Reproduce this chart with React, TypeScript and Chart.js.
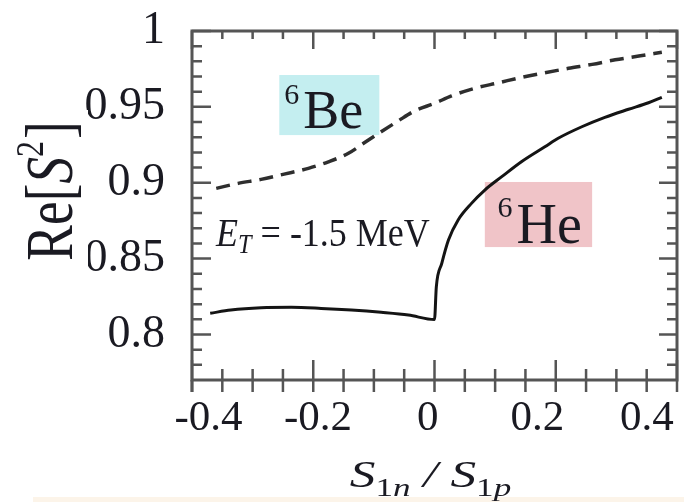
import React, { useEffect, useRef } from "react";
import { Chart, registerables } from "chart.js";

Chart.register(...registerables);

// Axis ticks and their printed labels
const xTickValues = [-0.4, -0.2, 0, 0.2, 0.4];
const xTickLabels = ["-0.4", "-0.2", "0", "0.2", "0.4"];
const yTickValues = [0.8, 0.85, 0.9, 0.95, 1.0];
const yTickLabels = ["0.8", "0.85", "0.9", "0.95", "1"];

// 6Be curve (dashed)
const be6X = [-0.36, -0.324, -0.286, -0.248, -0.208, -0.175, -0.142, -0.117, -0.088, -0.06, -0.033, 0.0, 0.028, 0.066, 0.106, 0.144, 0.182, 0.221, 0.26, 0.298, 0.337, 0.375];
const be6Y = [0.8963, 0.8996, 0.9022, 0.9057, 0.9095, 0.9138, 0.9194, 0.926, 0.9336, 0.9407, 0.9473, 0.9523, 0.9572, 0.9622, 0.9659, 0.9695, 0.9725, 0.9754, 0.978, 0.981, 0.9835, 0.986];

// 6He curve (solid)
const he6X = [-0.37, -0.336, -0.286, -0.236, -0.187, -0.137, -0.088, -0.043, 0.0, 0.003, 0.012, 0.023, 0.039, 0.061, 0.083, 0.111, 0.144, 0.182, 0.204, 0.243, 0.281, 0.32, 0.353, 0.375];
const he6Y = [0.814, 0.8161, 0.8176, 0.8179, 0.8172, 0.8161, 0.8146, 0.8128, 0.8098, 0.8314, 0.8469, 0.8623, 0.8755, 0.8864, 0.8952, 0.904, 0.914, 0.9237, 0.9293, 0.9369, 0.9431, 0.9484, 0.9527, 0.9563];

const SERIF = '"Liberation Serif", "DejaVu Serif", serif';
const TEXT = "#1a1a22";

type Part = { t: string; size: number; italic?: boolean; dy?: number; dx?: number };

function fontOf(p: Part) {
  return `${p.italic ? "italic " : ""}${p.size}px ${SERIF}`;
}

function measureParts(ctx: CanvasRenderingContext2D, parts: Part[]) {
  let w = 0;
  for (const p of parts) {
    ctx.font = fontOf(p);
    w += (p.dx || 0) + ctx.measureText(p.t).width;
  }
  return w;
}

// Draws a run of text pieces (with sub/superscripts) from a baseline point
function drawParts(ctx: CanvasRenderingContext2D, parts: Part[], x: number, y: number, sx = 1, sy = 1, center = false) {
  ctx.save();
  ctx.translate(x, y);
  ctx.scale(sx, sy);
  ctx.textBaseline = "alphabetic";
  ctx.textAlign = "left";
  ctx.fillStyle = TEXT;
  let cx = center ? -measureParts(ctx, parts) / 2 : 0;
  for (const p of parts) {
    ctx.font = fontOf(p);
    cx += p.dx || 0;
    ctx.fillText(p.t, cx, p.dy || 0);
    cx += ctx.measureText(p.t).width;
  }
  ctx.restore();
}

// Keeps tick-label overflow from shrinking the plot box
const noOverflow = (scale: any) => {
  scale.paddingLeft = 0;
  scale.paddingRight = 0;
  scale.paddingTop = 0;
  scale.paddingBottom = 0;
};

const underlayPlugin = {
  id: "underlay",
  beforeDatasetsDraw(chart: any) {
    const { ctx } = chart;
    const xs = chart.scales.x;
    const ys = chart.scales.y;
    const box = (x0: number, x1: number, y0: number, y1: number, color: string) => {
      const px0 = xs.getPixelForValue(x0);
      const px1 = xs.getPixelForValue(x1);
      const py0 = ys.getPixelForValue(y0);
      const py1 = ys.getPixelForValue(y1);
      ctx.save();
      ctx.fillStyle = color;
      ctx.fillRect(px0, py0, px1 - px0, py1 - py0);
      ctx.restore();
    };
    box(-0.256, -0.091, 0.971, 0.9314, "#c4eef0");
    box(0.083, 0.26, 0.9005, 0.8576, "#f0c4c8");

    drawParts(
      ctx,
      [
        { t: "6", size: 30, dy: -24 },
        { t: "Be", size: 54, dx: 4 },
      ],
      xs.getPixelForValue(-0.248),
      ys.getPixelForValue(0.936)
    );
    drawParts(
      ctx,
      [
        { t: "6", size: 30, dy: -26 },
        { t: "He", size: 56, dx: 4 },
      ],
      xs.getPixelForValue(0.104),
      ys.getPixelForValue(0.8602)
    );
    drawParts(
      ctx,
      [
        { t: "E", size: 40, italic: true },
        { t: "T", size: 27, italic: true, dy: 7 },
        { t: " = -1.5 MeV", size: 40 },
      ],
      xs.getPixelForValue(-0.3603),
      ys.getPixelForValue(0.8583),
      0.9
    );
  },
};

const framePlugin = {
  id: "frame",
  afterDraw(chart: any) {
    const { ctx, chartArea } = chart;
    const { left, right, top, bottom } = chartArea;
    const xs = chart.scales.x;
    const ys = chart.scales.y;
    ctx.save();
    ctx.strokeStyle = "#555555";
    ctx.lineWidth = 3;
    ctx.strokeRect(left, top, right - left, bottom - top);
    ctx.beginPath();
    ctx.moveTo(left, bottom);
    ctx.lineTo(left, bottom + 12);
    ctx.stroke();

    ctx.lineWidth = 2.5;
    ctx.beginPath();
    for (let k = -8; k <= 8; k++) {
      const px = xs.getPixelForValue(k * 0.05);
      const major = k % 4 === 0;
      ctx.moveTo(px, top);
      ctx.lineTo(px, top + (major ? 18 : 8));
      ctx.moveTo(px, bottom + 12);
      ctx.lineTo(px, bottom - (major ? 20 : 11));
    }
    for (let k = 1; k <= 23; k++) {
      const v = 0.77 + k * 0.01;
      const py = ys.getPixelForValue(v);
      const major = Math.round(v * 100) % 5 === 0;
      ctx.moveTo(left, py);
      ctx.lineTo(left + (major ? 19 : 10), py);
      ctx.moveTo(right, py);
      ctx.lineTo(right - (major ? 18 : 10), py);
    }
    ctx.stroke();
    ctx.restore();

    // pale strip along the lower edge
    ctx.save();
    ctx.fillStyle = "#fcf4e9";
    ctx.fillRect(33, chart.height - 5, chart.width - 33, 5);
    ctx.restore();

    // y-axis title on its own white backing
    ctx.save();
    ctx.fillStyle = "#ffffff";
    ctx.fillRect(0, 110, 88, 163);
    ctx.restore();
    ctx.save();
    ctx.translate(72, top + 160);
    ctx.rotate(-Math.PI / 2);
    drawParts(
      ctx,
      [
        { t: "Re[", size: 60 },
        { t: "S", size: 60, italic: true },
        { t: "2", size: 36, dy: -26 },
        { t: "]", size: 60, dx: 2 },
      ],
      0,
      0,
      0.89,
      1.12,
      true
    );
    ctx.restore();

    // x-axis title
    drawParts(
      ctx,
      [
        { t: "S", size: 38, italic: true },
        { t: "1", size: 26, dy: 9 },
        { t: "n", size: 26, italic: true, dy: 9 },
        { t: " / ", size: 38, italic: true },
        { t: "S", size: 38, italic: true },
        { t: "1", size: 26, dy: 9 },
        { t: "p", size: 26, italic: true, dy: 9 },
      ],
      (left + right) / 2 - 4,
      bottom + 107,
      1.35,
      1,
      true
    );
  },
};

export default function App() {
  const canvasRef = useRef<HTMLCanvasElement | null>(null);

  useEffect(() => {
    const canvas = canvasRef.current;
    if (!canvas) return;
    const chart = new Chart(canvas, {
      type: "line",
      data: {
        datasets: [
          {
            label: "6Be",
            data: be6X.map((x, i) => ({ x, y: be6Y[i] })),
            xAxisID: "x",
            yAxisID: "y",
            borderColor: "#2e2e2e",
            borderWidth: 3.5,
            borderDash: [14, 8],
            pointRadius: 0,
            cubicInterpolationMode: "monotone",
            fill: false,
          },
          {
            label: "6He",
            data: he6X.map((x, i) => ({ x, y: he6Y[i] })),
            xAxisID: "x",
            yAxisID: "y",
            borderColor: "#141414",
            borderWidth: 3,
            pointRadius: 0,
            cubicInterpolationMode: "monotone",
            fill: false,
          },
        ],
      },
      options: {
        animation: false,
        responsive: false,
        maintainAspectRatio: false,
        layout: { padding: { top: 31, right: 7, left: 0, bottom: 0 } },
        plugins: { legend: { display: false }, tooltip: { enabled: false } },
        scales: {
          x: { type: "linear", min: -0.4, max: 0.4, display: false },
          xl: {
            type: "linear",
            position: "bottom",
            min: -0.43,
            max: 0.455,
            grid: { display: false, drawTicks: false },
            border: { display: false },
            afterBuildTicks: (scale: any) => {
              scale.ticks = xTickValues.map((v) => ({ value: v }));
            },
            afterFit: (scale: any) => {
              scale.height = 122;
              noOverflow(scale);
            },
            ticks: {
              padding: 13,
              color: TEXT,
              maxRotation: 0,
              autoSkip: false,
              font: { family: SERIF, size: 43 },
              callback: (v: any) => {
                const i = xTickValues.findIndex((t) => Math.abs(t - v) < 1e-9);
                return i >= 0 ? xTickLabels[i] : "";
              },
            },
          },
          y: {
            type: "linear",
            position: "left",
            min: 0.77,
            max: 1.0,
            grid: { display: false, drawTicks: false },
            border: { display: false },
            afterBuildTicks: (scale: any) => {
              scale.ticks = yTickValues.map((v) => ({ value: v }));
            },
            afterFit: (scale: any) => {
              scale.width = 192;
              noOverflow(scale);
            },
            ticks: {
              padding: 27,
              color: TEXT,
              autoSkip: false,
              font: { family: SERIF, size: 46 },
              callback: (v: any) => {
                const i = yTickValues.findIndex((t) => Math.abs(t - v) < 1e-9);
                return i >= 0 ? yTickLabels[i] : "";
              },
            },
          },
        },
      },
      plugins: [underlayPlugin, framePlugin],
    } as any);
    return () => chart.destroy();
  }, []);

  return (
    <div style={{ position: "fixed", left: 0, top: 0, width: 684, height: 502, background: "#ffffff" }}>
      <canvas ref={canvasRef} width={684} height={502} style={{ display: "block", width: 684, height: 502 }} />
    </div>
  );
}
